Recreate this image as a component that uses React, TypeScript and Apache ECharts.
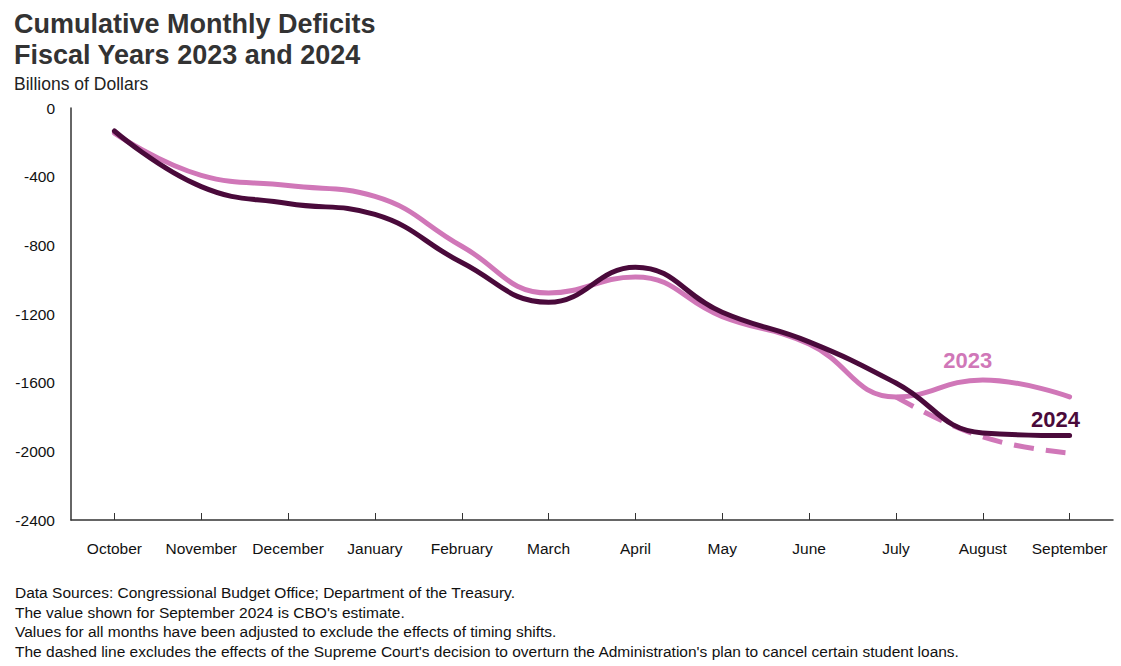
import React, { useEffect, useRef } from "react";
import * as echarts from "echarts";

const months = ["October", "November", "December", "January", "February", "March", "April", "May", "June", "July", "August", "September"];
const fy2023 = [-146, -392, -452, -515, -805, -1078, -984, -1215, -1375, -1683, -1584, -1683];
const fy2024 = [-134, -458, -556, -620, -900, -1132, -928, -1190, -1362, -1602, -1893, -1908];
const fy2023Adjusted = [null, null, null, null, null, null, null, null, null, -1683, -1916, -2010];
const yTicks = { min: -2400, max: 0, interval: 400 };

const titleText = "Cumulative Monthly Deficits\nFiscal Years 2023 and 2024";
const subtitleText = "Billions of Dollars";
const notes = [
  "Data Sources: Congressional Budget Office; Department of the Treasury.",
  "The value shown for September 2024 is CBO's estimate.",
  "Values for all months have been adjusted to exclude the effects of timing shifts.",
  "The dashed line excludes the effects of the Supreme Court's decision to overturn the Administration's plan to cancel certain student loans.",
];

const PINK = "#d077b8";
const DARK = "#4a0a3b";
const FONT = "'Liberation Sans', Arial, sans-serif";
const CLEAR = "rgba(0,0,0,0)";

export default function App() {
  const ref = useRef<HTMLDivElement>(null);
  useEffect(() => {
    if (!ref.current) return;
    const chart = echarts.init(ref.current, null, { renderer: "svg" });
    const lbl = (color: string, offset: number[]) => ({
      show: true,
      position: "top",
      offset,
      fontFamily: FONT,
      fontSize: 22,
      fontWeight: "bold",
      color,
      formatter: "{a}",
    });
    chart.setOption({
      animation: false,
      textStyle: { fontFamily: FONT },
      title: [
        {
          text: titleText,
          left: 9,
          top: 3,
          textStyle: { fontFamily: FONT, fontSize: 27, fontWeight: "bold", color: "#333", lineHeight: 31 },
        },
        {
          text: subtitleText,
          left: 9,
          top: 70,
          textStyle: { fontFamily: FONT, fontSize: 17.5, fontWeight: "normal", color: "#222" },
        },
      ],
      grid: { left: 71, right: 8, top: 108, bottom: 146, containLabel: false },
      xAxis: {
        type: "category",
        data: months,
        boundaryGap: true,
        position: "bottom",
        axisLine: { onZero: false, lineStyle: { color: "#333", width: 1.5 } },
        axisTick: { show: true, alignWithLabel: true, inside: true, length: 7, interval: 0, lineStyle: { color: "#333" } },
        axisLabel: { color: "#111", fontSize: 15.5, margin: 20, interval: 0, fontFamily: FONT },
        splitLine: { show: false },
      },
      yAxis: {
        type: "value",
        min: yTicks.min,
        max: yTicks.max,
        interval: yTicks.interval,
        axisLine: { show: true, lineStyle: { color: "#333", width: 1.5 } },
        axisTick: { show: false },
        axisLabel: { color: "#111", fontSize: 15.5, margin: 16, fontFamily: FONT, formatter: (v: number) => String(v) },
        splitLine: { show: false },
      },
      series: [
        {
          name: "2023adj",
          type: "line",
          data: fy2023Adjusted,
          smooth: 0.45,
          showSymbol: false,
          symbol: "none",
          lineStyle: { color: PINK, width: 5, type: [20, 12] },
          z: 1,
        },
        {
          name: "2023",
          type: "line",
          data: fy2023.map((v, i) => (i === 10 ? { value: v, label: lbl(PINK, [-15, -3]) } : v)),
          smooth: 0.45,
          symbol: "circle",
          symbolSize: 1,
          showSymbol: true,
          itemStyle: { color: CLEAR, borderColor: CLEAR, borderWidth: 0 },
          lineStyle: { color: PINK, width: 5, cap: "round" },
          z: 2,
        },
        {
          name: "2024",
          type: "line",
          data: fy2024.map((v, i) => (i === 11 ? { value: v, label: lbl(DARK, [-14, 0]) } : v)),
          smooth: 0.45,
          symbol: "circle",
          symbolSize: 1,
          showSymbol: true,
          itemStyle: { color: CLEAR, borderColor: CLEAR, borderWidth: 0 },
          lineStyle: { color: DARK, width: 5, cap: "round" },
          z: 3,
        },
      ],
      graphic: [
        {
          type: "text",
          left: 15,
          top: 583,
          style: {
            text: notes.join("\n"),
            fontFamily: FONT,
            fontSize: 15.5,
            lineHeight: 19.5,
            fill: "#111",
          },
        },
      ],
    });
    return () => chart.dispose();
  }, []);
  return <div ref={ref} style={{ position: "fixed", left: 0, top: 0, width: 1121, height: 666, background: "#fff" }} />;
}
